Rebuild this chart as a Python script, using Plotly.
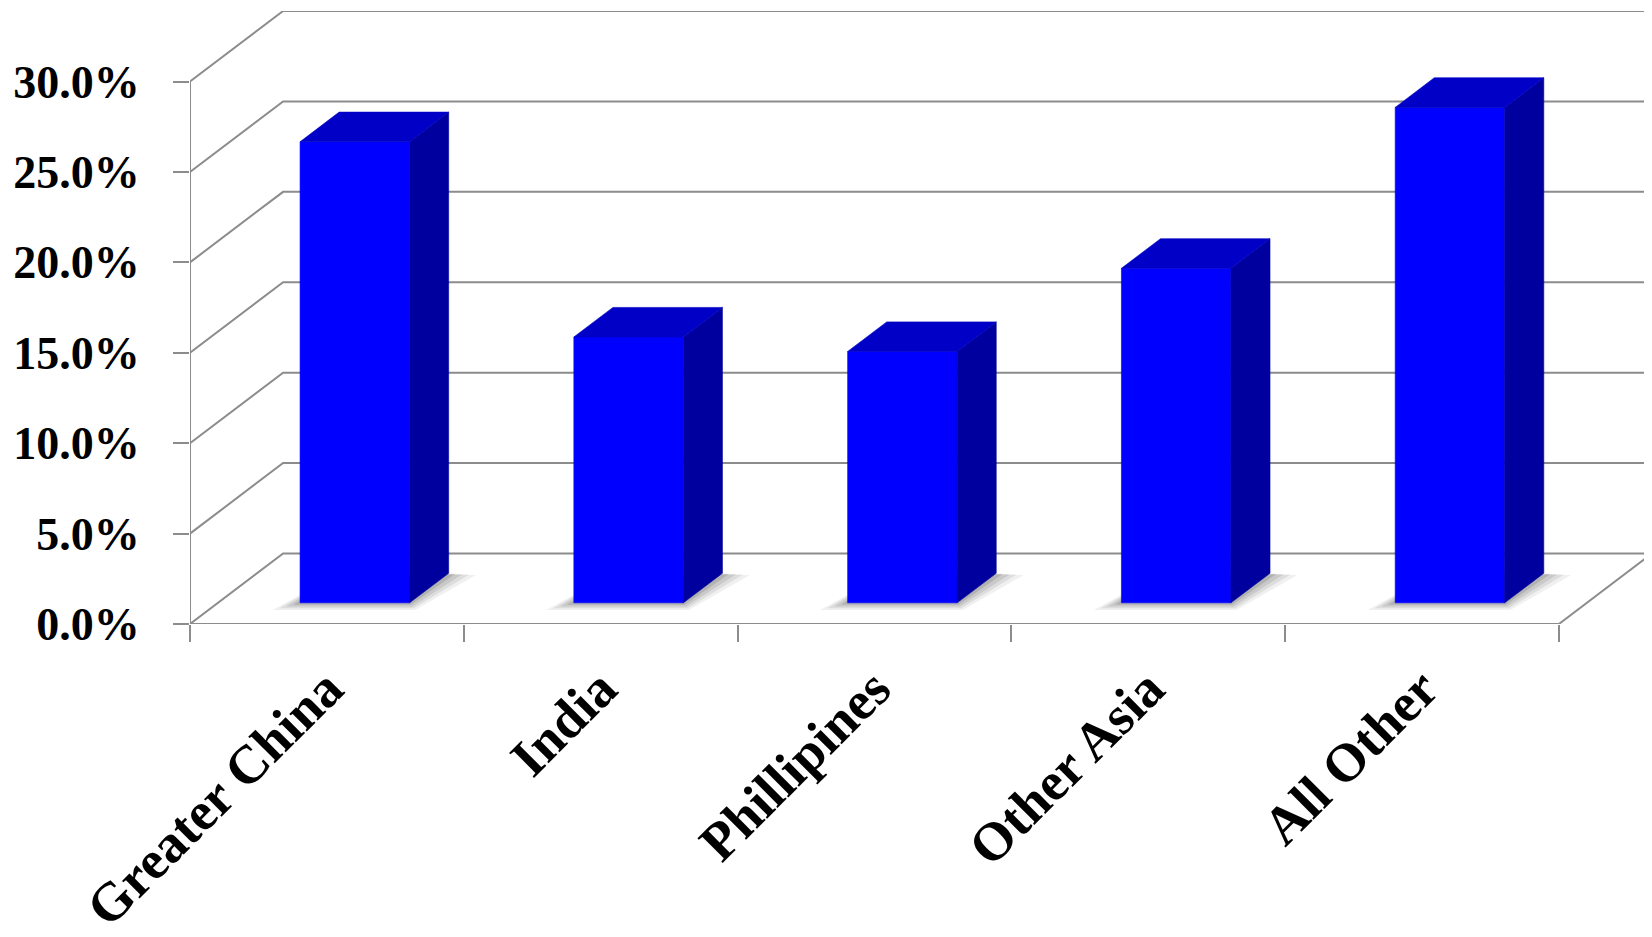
import plotly.graph_objects as go

# ---------------- data ----------------
categories = ["Greater China", "India", "Phillipines", "Other Asia", "All Other"]
shares = [25.5, 14.7, 13.9, 18.5, 27.4]          # percent
y_ticks = [0, 5, 10, 15, 20, 25, 30]
y_tick_labels = ["0.0%", "5.0%", "10.0%", "15.0%", "20.0%", "25.0%", "30.0%"]

# ---------------- style / geometry ----------------
N = len(categories)
DX = 0.34        # depth offset of back wall, x units
DY = 3.9         # depth offset of back wall, y units (%)
BAR_W = 0.40
F1, F2 = 0.30, 0.72   # bar front / back position as fraction of depth
GRID = "#8c8c8c"
FRONT = "#0000FF"
SIDE = "#00009E"
TOP = "#0000C6"
FONT = "Liberation Serif"

fig = go.Figure()

def poly(xs, ys, color, line_color=None, lw=0.6, opacity=1.0):
    fig.add_trace(go.Scatter(
        x=list(xs) + [xs[0]], y=list(ys) + [ys[0]], mode="lines", fill="toself",
        fillcolor=color, line=dict(color=line_color or color, width=lw),
        opacity=opacity, hoverinfo="skip", showlegend=False))

def line(xs, ys):
    fig.add_trace(go.Scatter(x=xs, y=ys, mode="lines",
                             line=dict(color=GRID, width=2),
                             hoverinfo="skip", showlegend=False))

# walls and gridlines
for v in y_ticks:
    line([0, DX, N + DX], [v, v + DY, v + DY])
line([N, N + DX], [0, DY])        # floor right edge
line([0, 0, N], [y_ticks[-1], 0, 0])   # front axes

# soft shadows on the floor
for i, v in enumerate(shares):
    xl = i + 0.5 - BAR_W / 2
    xr = i + 0.5 + BAR_W / 2
    for e, op in [(0.10, 0.09), (0.075, 0.12), (0.05, 0.15), (0.025, 0.2)]:
        xs = [xl + F1 * DX - e, xr + F1 * DX + e * 0.2,
              xr + F2 * DX + e, xl + F2 * DX]
        ys = [F1 * DY - e * 4, F1 * DY - e * 4, F2 * DY - e, F2 * DY]
        poly(xs, ys, "rgb(90,90,90)", lw=0, opacity=op)

# 3D bars
for i, v in enumerate(shares):
    xl = i + 0.5 - BAR_W / 2
    xr = i + 0.5 + BAR_W / 2
    fx1, fy1 = F1 * DX, F1 * DY
    fx2, fy2 = F2 * DX, F2 * DY
    # front face
    poly([xl + fx1, xr + fx1, xr + fx1, xl + fx1],
         [fy1, fy1, v + fy1, v + fy1], FRONT)
    # side face
    poly([xr + fx1, xr + fx2, xr + fx2, xr + fx1],
         [fy1, fy2, v + fy2, v + fy1], SIDE)
    # top face
    poly([xl + fx1, xr + fx1, xr + fx2, xl + fx2],
         [v + fy1, v + fy1, v + fy2, v + fy2], TOP)

fig.update_layout(
    width=1644, height=929,
    margin=dict(l=182, r=0, t=3, b=313, autoexpand=False),
    paper_bgcolor="white", plot_bgcolor="white",
    showlegend=False,
    xaxis=dict(
        range=[0, N + DX], showgrid=False, zeroline=False, showline=False,
        automargin=False,
        tickvals=[i + 0.5 for i in range(N)], ticktext=categories,
        tickangle=-45, ticks="",
        tickfont=dict(family=FONT, size=54, color="black", weight="bold"),
        minor=dict(tickvals=list(range(N + 1)), ticks="outside", ticklen=17,
                   tickcolor=GRID, tickwidth=2, showgrid=False),
        ticklabelstandoff=21,
    ),
    yaxis=dict(
        range=[0, y_ticks[-1] + DY], showgrid=False, zeroline=False, showline=False,
        automargin=False,
        tickvals=y_ticks, ticktext=y_tick_labels,
        ticks="outside", ticklen=16, tickcolor=GRID, tickwidth=2,
        tickfont=dict(family=FONT, size=46, color="black", weight="bold"),
        ticklabelstandoff=24,
    ),
)

fig.write_html("out.html", config={"displayModeBar": False})
